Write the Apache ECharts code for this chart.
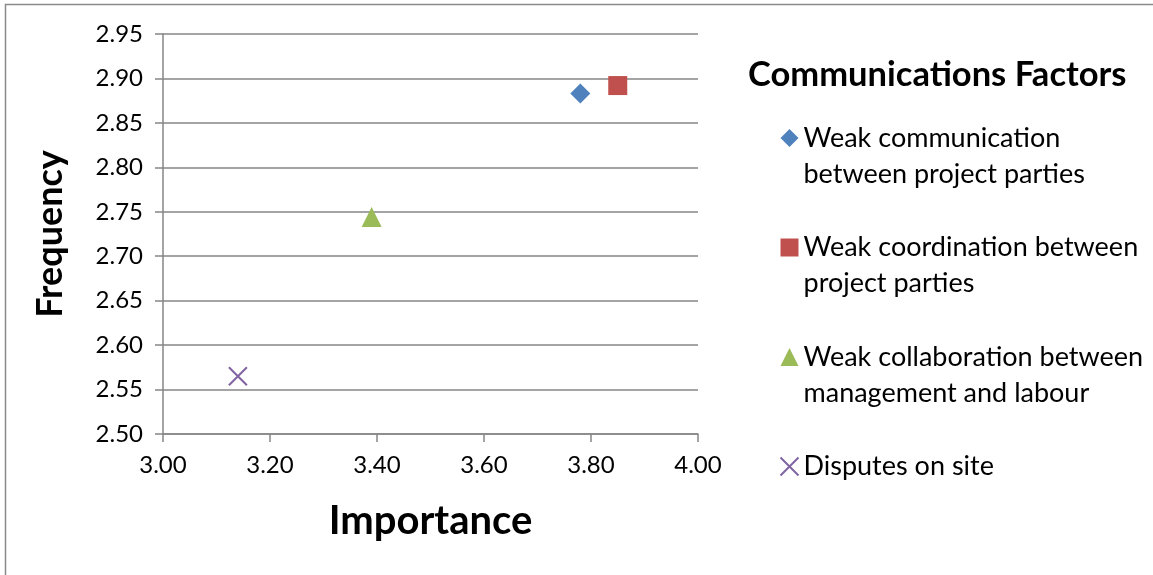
<!DOCTYPE html>
<html>
<head>
<meta charset="utf-8">
<title>Communications Factors</title>
<script src="https://cdn.jsdelivr.net/npm/echarts@6/dist/echarts.min.js"></script>
<style>
  html, body { margin: 0; padding: 0; background: #ffffff; }
  #chart { width: 1153px; height: 575px; }
</style>
</head>
<body>
<div id="chart"></div>
<script>
// Factor names (legend order) and their wrapped legend labels
const factorNames = [
  'Weak communication between project parties',
  'Weak coordination between project parties',
  'Weak collaboration between management and labour',
  'Disputes on site'
];
const legendLines = [
  ['Weak communication', 'between project parties'],
  ['Weak coordination between', 'project parties'],
  ['Weak collaboration between', 'management and labour'],
  ['Disputes on site', '']
];

// Mean scores: [Importance, Frequency]
const importance = [3.78, 3.85, 3.39, 3.14];
const frequency = [2.883, 2.892, 2.744, 2.565];

// Axis ranges
const xTicks = { min: 3.0, max: 4.0, step: 0.2 };
const yTicks = { min: 2.5, max: 2.95, step: 0.05 };

const colors = ['#4F81BD', '#C0504D', '#9BBB59', '#8064A2'];
const symbols = ['diamond', 'rect', 'triangle', 'path://M0,0L10,10M10,0L0,10'];
const symbolSizes = [20, 19, 20, 18];

const FONT = 'Lato, "Open Sans", sans-serif';
const GRID_GRAY = '#868686';

const series = factorNames.map((name, i) => {
  const isCross = i === 3;
  return {
    name: name,
    type: 'scatter',
    data: [[importance[i], frequency[i]]],
    symbol: symbols[i],
    symbolSize: symbolSizes[i],
    itemStyle: isCross
      ? { color: 'none', borderColor: colors[i], borderWidth: 2, opacity: 1 }
      : { color: colors[i], opacity: 1 },
    emphasis: { disabled: true }
  };
});

// Each legend entry gets a blank first line so the marker sits beside the first text line
function legendText(name) {
  const lines = legendLines[factorNames.indexOf(name)];
  return '\n' + lines.join('\n');
}

const chart = echarts.init(document.getElementById('chart'), null, { renderer: 'canvas' });

chart.setOption({
  animation: false,
  backgroundColor: '#ffffff',
  textStyle: { fontFamily: FONT },
  title: {
    text: 'Communications Factors',
    left: 748,
    top: 57,
    padding: 0,
    textStyle: { fontFamily: FONT, fontSize: 34.5, fontWeight: 'bold', color: '#000' }
  },
  graphic: [{
    type: 'rect',
    shape: { x: 5.5, y: 4.5, width: 1300, height: 700 },
    style: { fill: 'none', stroke: '#8a8a8a', lineWidth: 1.5 },
    silent: true
  }],
  grid: { left: 163, right: 455, top: 34, bottom: 141, containLabel: false },
  xAxis: {
    type: 'value',
    min: xTicks.min,
    max: xTicks.max,
    interval: xTicks.step,
    name: 'Importance',
    nameLocation: 'middle',
    nameGap: 67,
    nameTextStyle: { fontFamily: FONT, fontSize: 40, fontWeight: 'bold', color: '#000' },
    axisLine: { show: true, lineStyle: { color: GRID_GRAY, width: 1.5 } },
    axisTick: { show: true, length: 8, lineStyle: { color: GRID_GRAY, width: 1.5 } },
    axisLabel: {
      margin: 19,
      fontFamily: FONT, fontSize: 24, color: '#000',
      formatter: v => v.toFixed(2)
    },
    splitLine: { show: false }
  },
  yAxis: {
    type: 'value',
    min: yTicks.min,
    max: yTicks.max,
    interval: yTicks.step,
    name: 'Frequency',
    nameLocation: 'middle',
    nameGap: 95,
    nameTextStyle: { fontFamily: FONT, fontSize: 36, fontWeight: 'bold', color: '#000' },
    axisLine: { show: true, lineStyle: { color: GRID_GRAY, width: 1.5 } },
    axisTick: { show: true, length: 8, lineStyle: { color: GRID_GRAY, width: 1.5 } },
    axisLabel: {
      margin: 20,
      fontFamily: FONT, fontSize: 24, color: '#000',
      formatter: v => v.toFixed(2)
    },
    splitLine: { show: true, lineStyle: { color: GRID_GRAY, width: 1.5 } }
  },
  legend: {
    orient: 'vertical',
    left: 778,
    top: 84,
    padding: 0,
    itemWidth: 18,
    itemHeight: 18,
    itemGap: 1.5,
    selectedMode: false,
    data: factorNames,
    formatter: legendText,
    textStyle: {
      fontFamily: FONT, fontSize: 27, color: '#000', lineHeight: 36
    }
  },
  series: series
});
</script>
</body>
</html>
